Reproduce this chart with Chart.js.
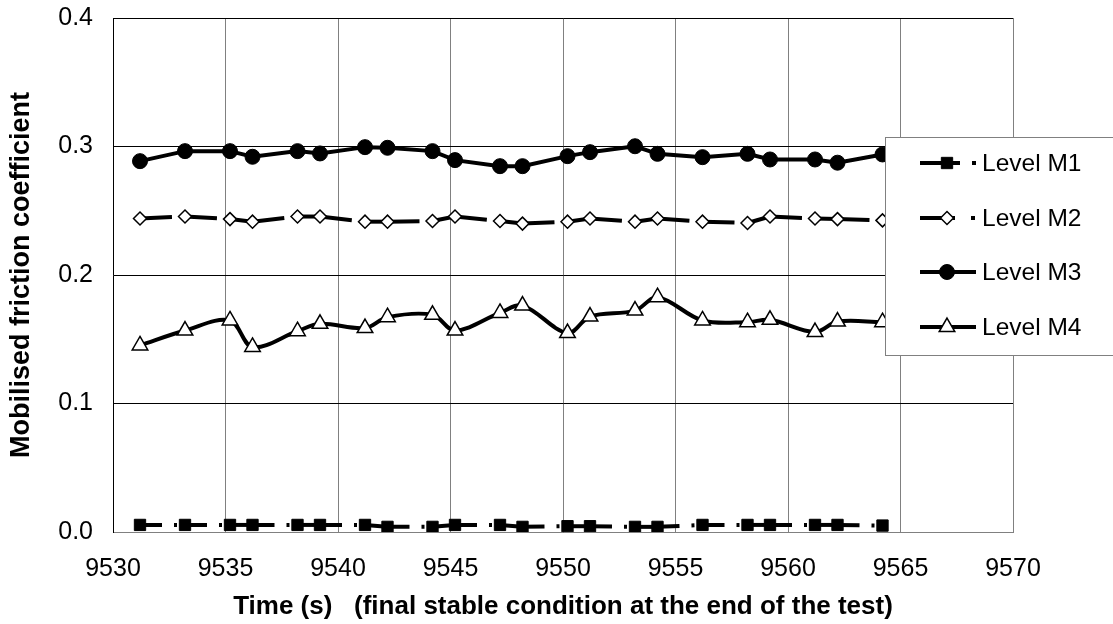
<!DOCTYPE html>
<html>
<head>
<meta charset="utf-8">
<script src="https://cdn.jsdelivr.net/npm/chart.js@4/dist/chart.umd.min.js"></script>
<style>
  html, body { margin: 0; padding: 0; background: #fff; }
  #wrap { width: 1113px; height: 624px; }
</style>
</head>
<body>
<div id="wrap"><canvas id="frictionChart" width="1113" height="624"></canvas></div>
<script>
// time of each reading (s)
const times = [9531.2, 9533.2, 9535.2, 9536.2, 9538.2, 9539.2, 9541.2, 9542.2, 9544.2, 9545.2, 9547.2,
               9548.2, 9550.2, 9551.2, 9553.2, 9554.2, 9556.2, 9558.2, 9559.2, 9561.2, 9562.2, 9564.2];

const levelM1 = [0.0055, 0.0055, 0.0055, 0.0055, 0.0055, 0.0055, 0.0055, 0.004, 0.004, 0.0055, 0.0055,
                 0.004, 0.0045, 0.0045, 0.004, 0.004, 0.0055, 0.0055, 0.0055, 0.0055, 0.0055, 0.005];
const levelM2 = [0.244, 0.2455, 0.2435, 0.2415, 0.2455, 0.2455, 0.2415, 0.2415, 0.242, 0.2455, 0.242,
                 0.240, 0.2415, 0.244, 0.2415, 0.244, 0.2415, 0.2405, 0.2455, 0.244, 0.2435, 0.2425];
const levelM3 = [0.2886, 0.2964, 0.2964, 0.292, 0.2964, 0.2946, 0.2995, 0.299, 0.2964, 0.2894, 0.2847,
                 0.2847, 0.2925, 0.2956, 0.3002, 0.2943, 0.2917, 0.2943, 0.2899, 0.2899, 0.2874, 0.2938];
const levelM4 = [0.1452, 0.1568, 0.1646, 0.144, 0.1563, 0.162, 0.1587, 0.1672, 0.169, 0.1568, 0.1705,
                 0.1762, 0.1548, 0.1677, 0.1723, 0.1827, 0.1646, 0.1633, 0.1651, 0.1556, 0.1638, 0.1633];

const seriesNames = ['Level M1', 'Level M2', 'Level M3', 'Level M4'];
const yTicks = [0, 0.1, 0.2, 0.3, 0.4];
const xTicks = [9530, 9535, 9540, 9545, 9550, 9555, 9560, 9565, 9570];

const FONT = "'Liberation Sans', Arial, sans-serif";
// legend sample line patterns (Excel style dash + dot)
const legendDash = [[40, 12, 4, 100], [35, 16, 4, 100], [], []];

function toPoints(values) {
    return times.map((t, i) => ({ x: t, y: values[i] }));
}

// restart the dash pattern on every segment like Excel does
const restartDash = {
    borderDashOffset: ctx => (ctx.p0DataIndex % 2 ? 0.001 : 0)
};

// no extra room for the edge labels, the plot area is fixed
function noScalePadding(scale) {
    scale.paddingTop = 0;
    scale.paddingBottom = 0;
    scale.paddingLeft = 0;
    scale.paddingRight = 0;
}

const legendBox = {
    id: 'legendBox',
    afterDatasetsDraw(chart) {
        const ctx = chart.ctx;
        ctx.save();
        ctx.fillStyle = '#fff';
        ctx.strokeStyle = '#808080';
        ctx.lineWidth = 1;
        ctx.fillRect(885.5, 137.5, 260, 218);
        ctx.strokeRect(885.5, 137.5, 260, 218);

        chart.data.datasets.forEach((ds, i) => {
            const y = Math.round(163 + i * 54.7);
            ctx.strokeStyle = '#000';
            ctx.lineWidth = 4;
            ctx.setLineDash(legendDash[i]);
            ctx.beginPath();
            ctx.moveTo(920, y);
            ctx.lineTo(976, y);
            ctx.stroke();
            ctx.setLineDash([]);

            ctx.fillStyle = ds.pointBackgroundColor;
            ctx.strokeStyle = '#000';
            ctx.lineWidth = ds.pointBorderWidth;
            Chart.helpers.drawPoint(ctx, {
                pointStyle: ds.pointStyle,
                radius: ds.pointRadius,
                borderWidth: ds.pointBorderWidth,
                rotation: 0
            }, 947, y);

            ctx.fillStyle = '#000';
            ctx.font = '24.5px ' + FONT;
            ctx.textAlign = 'left';
            ctx.textBaseline = 'middle';
            ctx.fillText(ds.label, 982, y + 1);
        });
        ctx.restore();
    }
};

const ctx = document.getElementById('frictionChart').getContext('2d');
const frictionChart = new Chart(ctx, {
    type: 'line',
    data: {
        datasets: [
            {
                label: seriesNames[0],
                data: toPoints(levelM1),
                borderColor: '#000',
                borderWidth: 4,
                borderDash: [22, 12, 3, 12],
                segment: restartDash,
                pointStyle: 'rect',
                pointRadius: 8,
                pointBorderWidth: 1,
                pointBackgroundColor: '#000',
                pointBorderColor: '#000',
                tension: 0
            },
            {
                label: seriesNames[1],
                data: toPoints(levelM2),
                borderColor: '#000',
                borderWidth: 4,
                borderDash: [32, 12, 3, 12],
                segment: restartDash,
                pointStyle: 'rectRot',
                pointRadius: 6.5,
                pointBorderWidth: 1.5,
                pointBackgroundColor: '#fff',
                pointBorderColor: '#000',
                tension: 0
            },
            {
                label: seriesNames[2],
                data: toPoints(levelM3),
                borderColor: '#000',
                borderWidth: 4,
                pointStyle: 'circle',
                pointRadius: 7.5,
                pointBorderWidth: 1,
                pointBackgroundColor: '#000',
                pointBorderColor: '#000',
                tension: 0
            },
            {
                label: seriesNames[3],
                data: toPoints(levelM4),
                borderColor: '#000',
                borderWidth: 4,
                pointStyle: 'triangle',
                pointRadius: 9,
                pointBorderWidth: 1.5,
                pointBackgroundColor: '#fff',
                pointBorderColor: '#000',
                tension: 0.35
            }
        ]
    },
    options: {
        responsive: false,
        animation: false,
        layout: {
            autoPadding: false,
            padding: { top: 18, right: 100, left: 0, bottom: 0 }
        },
        scales: {
            x: {
                type: 'linear',
                min: 9530,
                max: 9570,
                afterFit: scale => { scale.height = 92; noScalePadding(scale); },
                afterBuildTicks: scale => { scale.ticks = xTicks.map(v => ({ value: v })); },
                grid: { color: '#808080', lineWidth: 1, drawTicks: false },
                border: { color: '#808080', width: 1 },
                ticks: {
                    color: '#000',
                    padding: 22,
                    maxRotation: 0,
                    font: { family: FONT, size: 25 },
                    callback: value => String(value)
                },
                title: {
                    display: true,
                    text: 'Time (s)   (final stable condition at the end of the test)',
                    color: '#000',
                    padding: { top: 0, bottom: 2 },
                    font: { family: FONT, size: 26, weight: 'bold' }
                }
            },
            y: {
                min: 0,
                max: 0.4,
                afterFit: scale => { scale.width = 113; noScalePadding(scale); },
                afterBuildTicks: scale => { scale.ticks = yTicks.map(v => ({ value: v })); },
                grid: { color: '#000', lineWidth: 1, drawTicks: false },
                border: { color: '#000', width: 1 },
                ticks: {
                    color: '#000',
                    padding: 20,
                    font: { family: FONT, size: 25 },
                    callback: value => value.toFixed(1)
                },
                title: {
                    display: true,
                    text: 'Mobilised friction coefficient',
                    color: '#000',
                    padding: { top: 5, bottom: 0 },
                    font: { family: FONT, size: 27, weight: 'bold' }
                }
            }
        },
        plugins: {
            legend: { display: false },
            tooltip: { enabled: false }
        }
    },
    plugins: [legendBox]
});
</script>
</body>
</html>
